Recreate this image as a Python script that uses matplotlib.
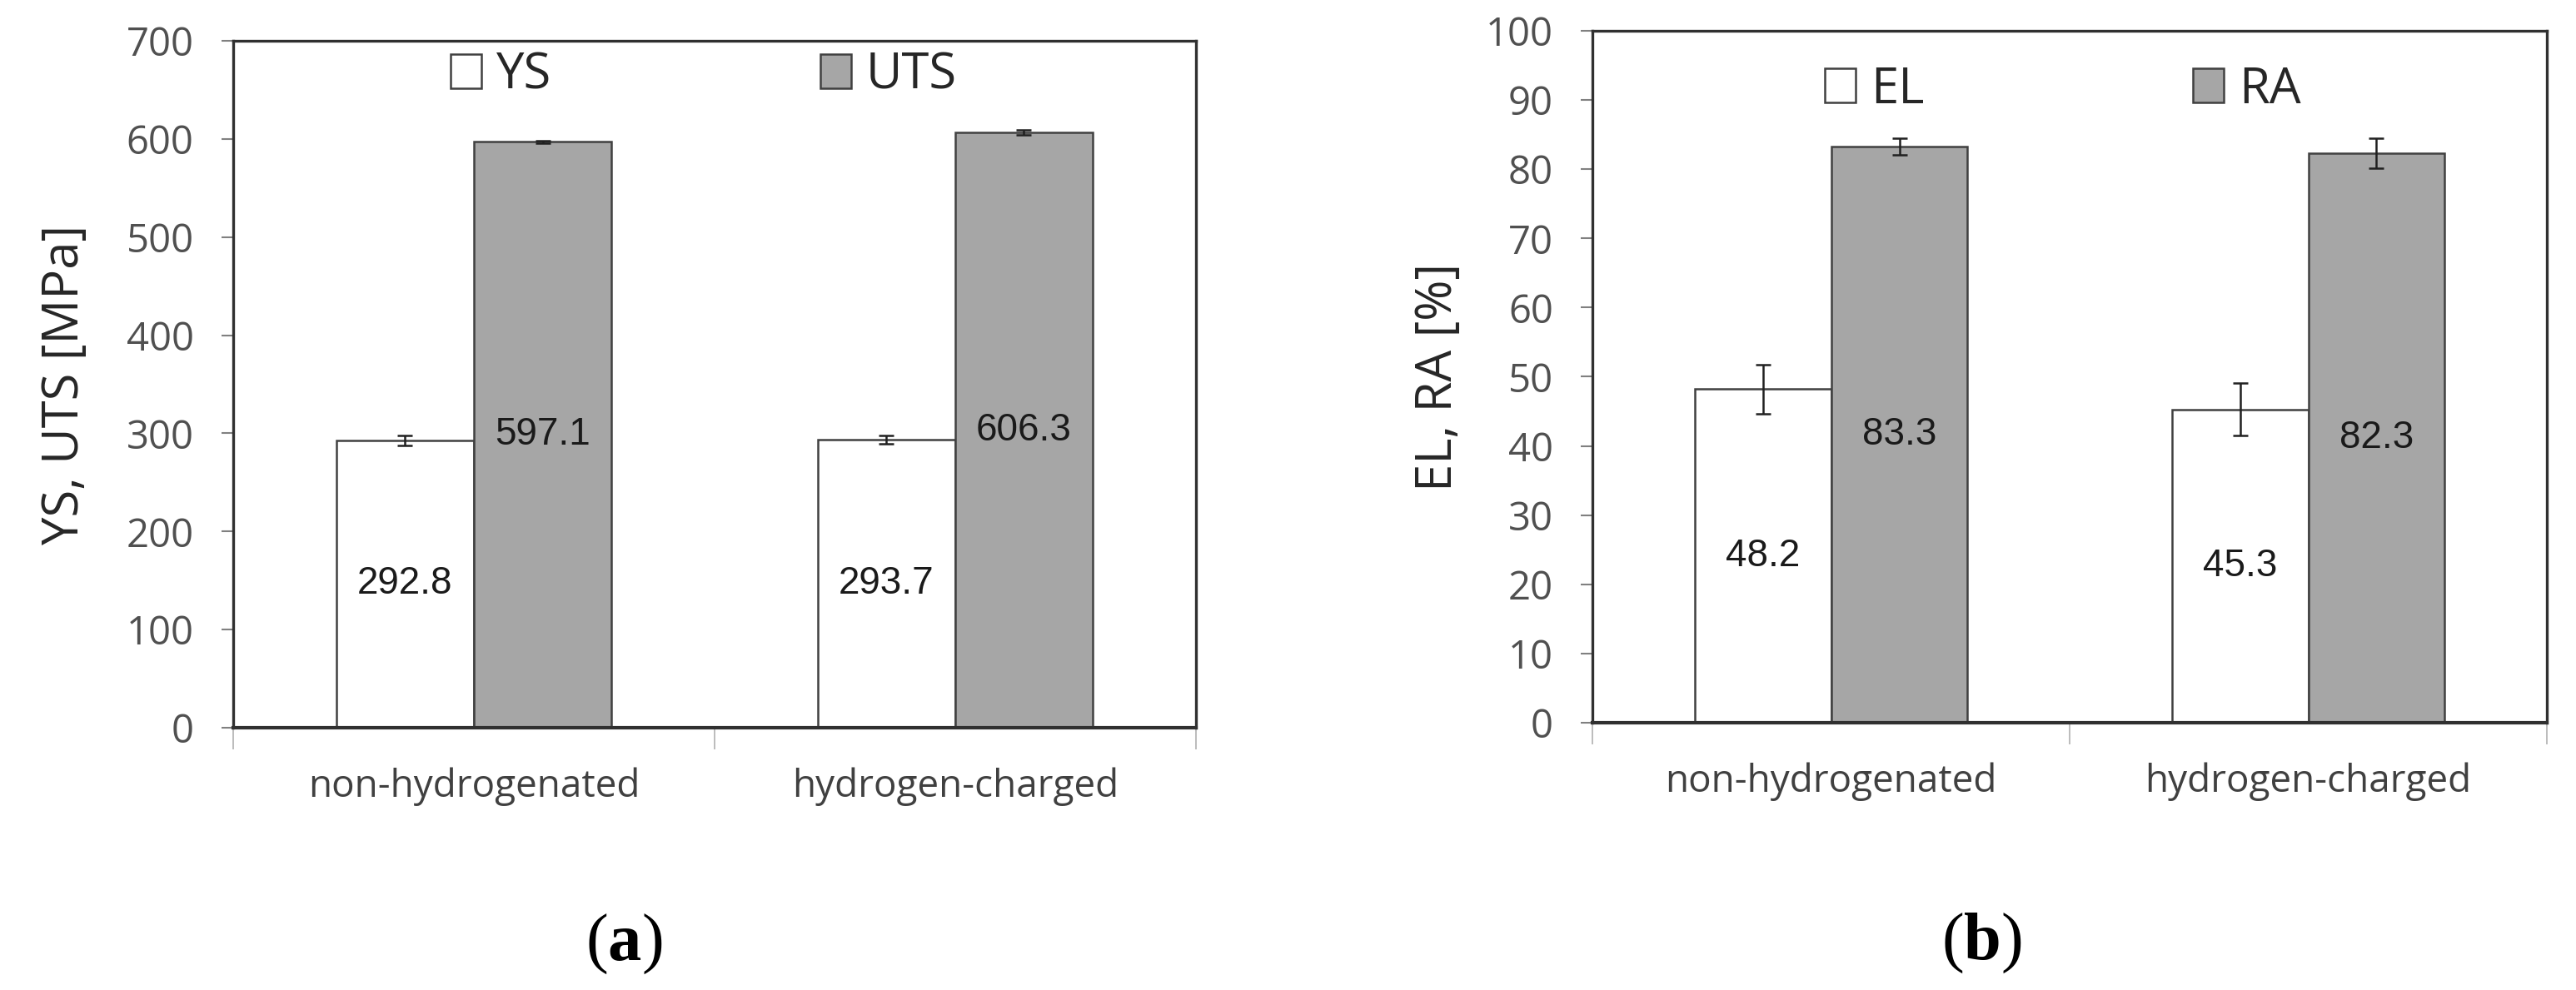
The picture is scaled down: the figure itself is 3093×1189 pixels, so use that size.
import matplotlib
matplotlib.use("Agg")
import matplotlib.pyplot as plt
import numpy as np
from matplotlib.patches import Patch

plt.rcParams["mathtext.fontset"] = "custom"
plt.rcParams["mathtext.rm"] = "Liberation Serif"
plt.rcParams["mathtext.bf"] = "Liberation Serif:bold"

categories = ["non-hydrogenated", "hydrogen-charged"]

# panel (a) strength
ys = [292.8, 293.7]
ys_err = [5.0, 4.0]
uts = [597.1, 606.3]
uts_err = [1.5, 2.5]

# panel (b) ductility
el = [48.2, 45.3]
el_err = [3.6, 3.8]
ra = [83.3, 82.3]
ra_err = [1.2, 2.2]

GREY = "#a6a6a6"
EDGE = "#404040"
TXT = "Open Sans"


def draw_panel(ax, s1, e1, s2, e2, names, ylabel, ymax, ystep, label_x, leg_xy):
    x = np.arange(len(categories))
    w = 0.286
    ax.bar(x - w / 2, s1, w, color="white", edgecolor=EDGE, linewidth=1.8, zorder=2)
    ax.bar(x + w / 2, s2, w, color=GREY, edgecolor=EDGE, linewidth=1.8, zorder=2)
    ax.errorbar(x - w / 2, s1, yerr=e1, fmt="none", ecolor="#202020",
                elinewidth=1.8, capsize=6.5, capthick=1.8, zorder=3)
    ax.errorbar(x + w / 2, s2, yerr=e2, fmt="none", ecolor="#202020",
                elinewidth=1.8, capsize=6.5, capthick=1.8, zorder=3)

    for xi, v in zip(x - w / 2, s1):
        ax.text(xi, v / 2, f"{v:.1f}", ha="center", va="center",
                fontsize=33, family="Liberation Sans", color="#1a1a1a", zorder=4)
    for xi, v in zip(x + w / 2, s2):
        ax.text(xi, v / 2, f"{v:.1f}", ha="center", va="center",
                fontsize=33, family="Liberation Sans", color="#1a1a1a", zorder=4)

    ax.set_xlim(-0.5, len(categories) - 0.5)
    ax.set_ylim(0, ymax)
    ax.set_yticks(np.arange(0, ymax + 1, ystep))

    # category labels without ticks, boundary ticks as minor ticks
    ax.set_xticks(x)
    ax.set_xticklabels(categories, family=TXT, fontsize=33, color="#404040")
    ax.set_xticks(np.arange(-0.5, len(categories), 1.0), minor=True)
    ax.tick_params(axis="x", which="major", length=0, pad=34)
    ax.tick_params(axis="x", which="minor", length=19, width=1.2,
                   color="#b0b0b0", direction="out")
    ax.tick_params(axis="y", length=10, width=1.5, color="#808080",
                   pad=24, labelsize=34, labelcolor="#505050")
    for t in ax.get_yticklabels():
        t.set_family(TXT)

    for s in ax.spines.values():
        s.set_linewidth(2.4)
        s.set_color("#303030")
    ax.spines["bottom"].set_linewidth(3.0)

    ax.set_ylabel(ylabel, family=TXT, fontsize=43, color="#262626")
    ax.yaxis.set_label_coords(label_x, 0.5)

    handles = [Patch(facecolor="white", edgecolor=EDGE, linewidth=1.8, label=names[0]),
               Patch(facecolor=GREY, edgecolor=EDGE, linewidth=1.8, label=names[1])]
    leg = ax.legend(handles=handles, loc="center", bbox_to_anchor=leg_xy, ncol=2,
                    frameon=False, handlelength=0.62, handleheight=0.68,
                    handletextpad=0.3, columnspacing=5.4, borderpad=0,
                    prop={"family": TXT, "size": 43})
    for t in leg.get_texts():
        t.set_color("#262626")


fig = plt.figure(figsize=(30.93, 11.89), dpi=100)
ax1 = fig.add_axes([0.0905, 0.2649, 0.3737, 0.6939])
ax2 = fig.add_axes([0.6182, 0.2700, 0.3705, 0.6989])

draw_panel(ax1, ys, ys_err, uts, uts_err, ["YS", "UTS"], "YS, UTS [MPa]",
           700, 100, -0.149, (0.489, 0.950))
draw_panel(ax2, el, el_err, ra, ra_err, ["EL", "RA"], "EL, RA [%]",
           100, 10, -0.135, (0.493, 0.915))

fig.text(749 / 3093, 1 - 1134 / 1189, r"($\mathbf{a}$)", ha="center", va="center",
         fontsize=58, family="Liberation Serif")
fig.text(2379 / 3093, 1 - 1133 / 1189, r"($\mathbf{b}$)", ha="center", va="center",
         fontsize=58, family="Liberation Serif")

fig.savefig("out.png", dpi=100, facecolor="white")
